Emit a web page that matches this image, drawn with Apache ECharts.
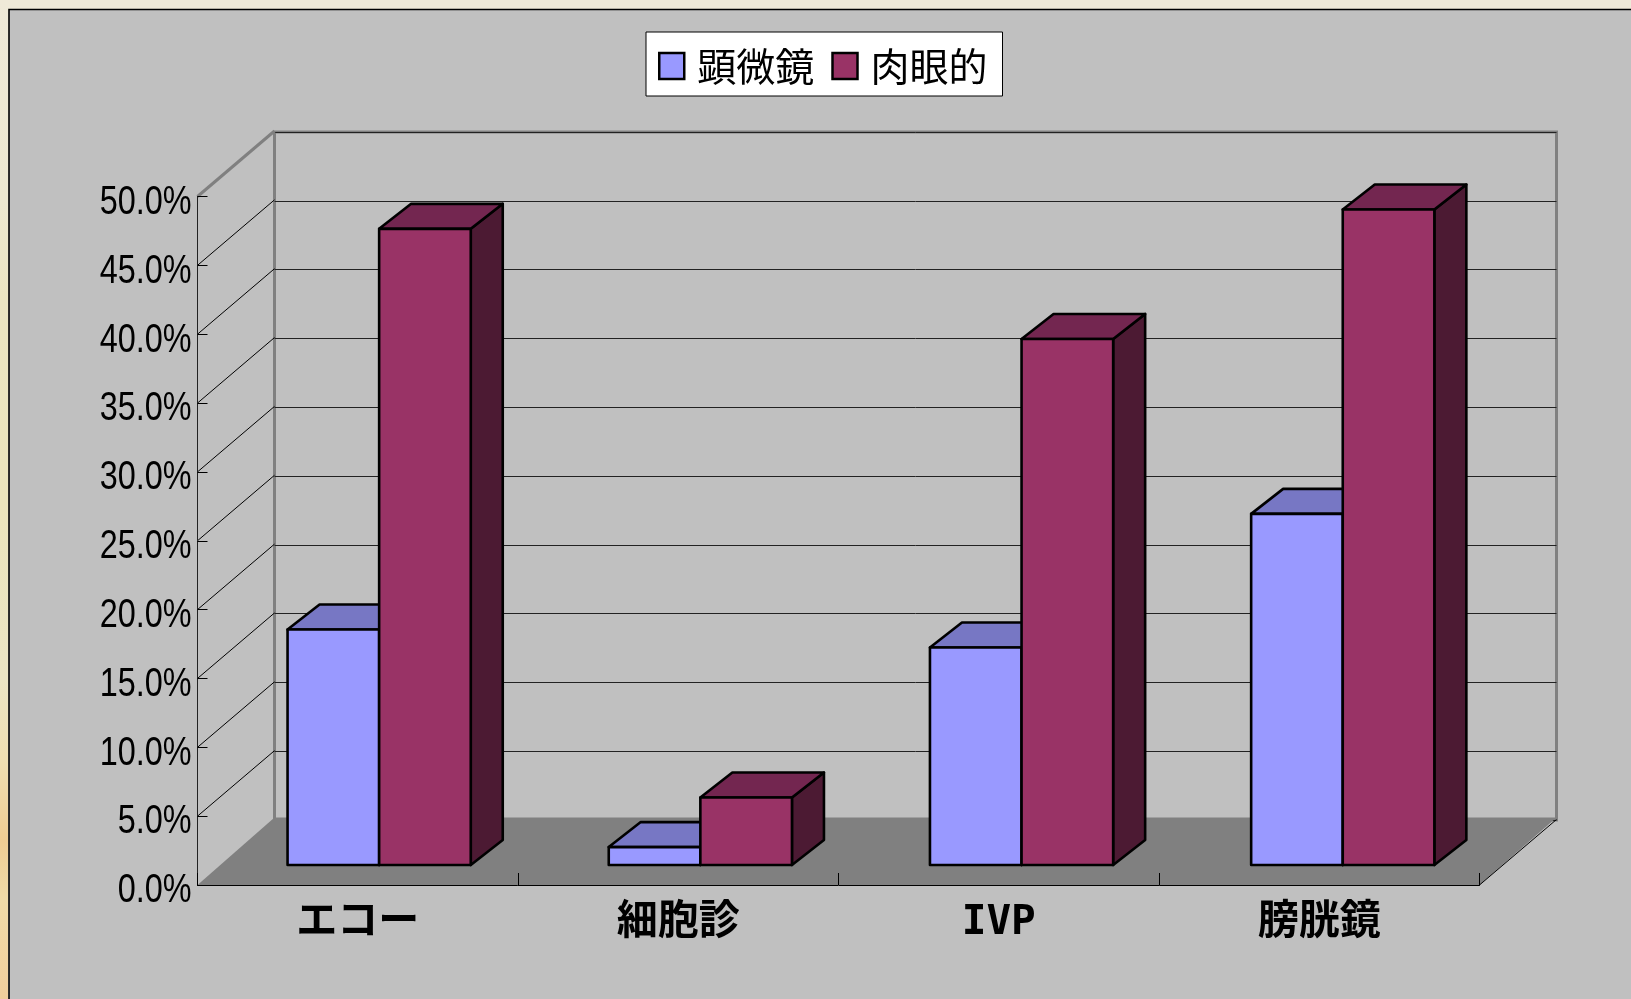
<!DOCTYPE html>
<html><head><meta charset="utf-8">
<style>html,body{margin:0;padding:0;background:#efe9d8}#c{width:1631px;height:999px}</style>
<script src="https://cdn.jsdelivr.net/npm/echarts@6/dist/echarts.min.js"></script>
</head><body><div id="c"></div>
<script>
const categories = ['エコー', '細胞診', 'IVP', '膀胱鏡'];
const seriesNames = ['顕微鏡', '肉眼的'];
const microscopic = [17.1, 1.3, 15.8, 25.5];
const grossVisible = [46.2, 4.9, 38.2, 47.6];
const yTicks = [0, 5, 10, 15, 20, 25, 30, 35, 40, 45, 50];
const yTickLabels = ['0.0%', '5.0%', '10.0%', '15.0%', '20.0%', '25.0%', '30.0%', '35.0%', '40.0%', '45.0%', '50.0%'];

const DEPTH_X = 77, DEPTH_Y = 65.5, FLOOR_DEPTH_Y = 67.5;
const JP = '"Noto Sans CJK JP"';
const chart = echarts.init(document.getElementById('c'), null, {renderer: 'canvas'});

function barItem(sign, faces) {
  return function (params, api) {
    const i = api.value(0);
    const c = api.coord([i, api.value(1)]);
    const base = api.coord([i, 0]);
    const w = api.size([1, 0])[0] * 0.2858;
    const offX = 21.4 + i * 0.7, offY = -20, dX = 32, dY = -25;
    const x0 = c[0] + offX + (sign < 0 ? -w : 0), x1 = x0 + w;
    const yT = c[1] + offY, yB = base[1] + offY;
    const st = (fill) => ({fill, stroke: '#000', lineWidth: 2.6, lineJoin: 'round'});
    return {type: 'group', children: [
      {type: 'polygon', shape: {points: [[x1, yT], [x1 + dX, yT + dY], [x1 + dX, yB + dY], [x1, yB]]}, style: st(faces[2])},
      {type: 'polygon', shape: {points: [[x0, yT], [x0 + dX, yT + dY], [x1 + dX, yT + dY], [x1, yT]]}, style: st(faces[1])},
      {type: 'polygon', shape: {points: [[x0, yT], [x1, yT], [x1, yB], [x0, yB]]}, style: st(faces[0])}
    ]};
  };
}

const option = {
  animation: false,
  backgroundColor: 'transparent',
  graphic: [
    {type: 'rect', z: -11, silent: true,
      shape: {x: 0, y: 0, width: 8, height: 999},
      style: {fill: new echarts.graphic.LinearGradient(0, 0, 0, 1, [
        {offset: 0, color: '#efe9d8'}, {offset: 0.2, color: '#ede8d0'}, {offset: 0.3, color: '#ebe5c2'},
        {offset: 0.5, color: '#ebe4bc'}, {offset: 0.68, color: '#ece5c4'}, {offset: 0.76, color: '#efdfb2'},
        {offset: 0.84, color: '#efcd93'}, {offset: 0.9, color: '#f0dba8'}, {offset: 1, color: '#f1cf9c'}
      ])}},
    {type: 'rect', z: -10, silent: true,
      shape: {x: 9, y: 9.5, width: 1640, height: 1010},
      style: {fill: '#c0c0c0', stroke: '#000', lineWidth: 1.6}}
  ],
  legend: {
    data: seriesNames, left: 646, top: 32, orient: 'horizontal',
    backgroundColor: '#fff', borderColor: '#000', borderWidth: 1,
    padding: [13, 15, 9, 12], itemWidth: 25, itemHeight: 26, itemGap: 17, icon: 'rect',
    selectedMode: false,
    itemStyle: {borderColor: '#000', borderWidth: 2.5},
    textStyle: {fontFamily: JP, fontSize: 39, color: '#000', padding: [0, 0, 0, 8], lineHeight: 42}
  },
  grid: [
    {left: 197.5, top: 196.5, width: 1282, height: 688.5},
    {left: 274.5, top: 132, width: 1282, height: 688, show: true, backgroundColor: 'transparent', borderColor: '#808080', borderWidth: 3}
  ],
  xAxis: [
    {type: 'category', gridIndex: 0, data: categories, z: 5,
      axisLine: {lineStyle: {color: '#000', width: 1}},
      axisTick: {show: true, inside: true, length: 12, alignWithLabel: false, lineStyle: {color: '#000'}},
      axisLabel: {fontFamily: '"DejaVu Sans Mono","Noto Sans CJK JP"', fontWeight: 'bold', fontSize: 41, color: '#000', margin: 18}},
    {type: 'category', gridIndex: 1, data: categories, show: false}
  ],
  yAxis: [
    {type: 'value', gridIndex: 0, min: 0, max: 50, interval: 5, z: 5,
      splitLine: {show: false},
      axisLine: {show: true, lineStyle: {color: '#222', width: 1}},
      axisTick: {show: true, inside: true, length: 10, lineStyle: {color: '#000'}},
      axisLabel: {show: false}},
    {type: 'value', gridIndex: 1, min: 0, max: 50, interval: 5,
      axisLine: {show: false}, axisTick: {show: false}, axisLabel: {show: false},
      splitLine: {show: true, lineStyle: {color: '#222', width: 1}}}
  ],
  series: [
    {type: 'custom', name: 'floor', xAxisIndex: 0, yAxisIndex: 0, z: 1, silent: true, data: [[0, 0]],
      renderItem(params, api) {
        const cs = params.coordSys, y = api.coord([0, 0])[1], x0 = cs.x, x1 = cs.x + cs.width;
        return {type: 'polygon', shape: {points: [[x0, y], [x1, y], [x1 + DEPTH_X, y - FLOOR_DEPTH_Y], [x0 + DEPTH_X, y - FLOOR_DEPTH_Y]]},
          style: {fill: '#808080'}};
      }},
    {type: 'custom', name: 'wall', xAxisIndex: 0, yAxisIndex: 0, z: 2, silent: true,
      data: yTicks.map(v => [0, v]),
      renderItem(params, api) {
        const cs = params.coordSys, v = api.value(1), y = api.coord([0, v])[1], x0 = cs.x;
        if (v === 0) {
          return {type: 'line', shape: {x1: x0 + cs.width, y1: y, x2: x0 + cs.width + DEPTH_X, y2: y - DEPTH_Y},
            style: {stroke: '#000', lineWidth: 1}};
        }
        return {type: 'line', shape: {x1: x0, y1: y, x2: x0 + DEPTH_X, y2: y - DEPTH_Y},
          style: v === 50 ? {stroke: '#808080', lineWidth: 3} : {stroke: '#000', lineWidth: 1}};
      }},
    {type: 'custom', name: 'yLabels', xAxisIndex: 0, yAxisIndex: 0, z: 6, silent: true,
      data: yTicks.map(v => [0, v]),
      renderItem(params, api) {
        const cs = params.coordSys, y = api.coord([0, api.value(1)])[1];
        return {type: 'text', x: cs.x - 6, y: y + 6, scaleX: 0.79, scaleY: 1,
          style: {text: yTickLabels[params.dataIndex], fontFamily: '"Liberation Sans"', fontSize: 41,
            fill: '#000', textAlign: 'right', textVerticalAlign: 'middle'}};
      }},
    {type: 'custom', name: seriesNames[0], xAxisIndex: 0, yAxisIndex: 0, z: 3,
      itemStyle: {color: '#9999ff'},
      data: microscopic.map((v, i) => [i, v]),
      renderItem: barItem(-1, ['#9999ff', '#7777c4', '#4c4c80'])},
    {type: 'custom', name: seriesNames[1], xAxisIndex: 0, yAxisIndex: 0, z: 4,
      itemStyle: {color: '#993366'},
      data: grossVisible.map((v, i) => [i, v]),
      renderItem: barItem(1, ['#993366', '#732650', '#4c1a33'])}
  ]
};
chart.setOption(option);
</script></body></html>
